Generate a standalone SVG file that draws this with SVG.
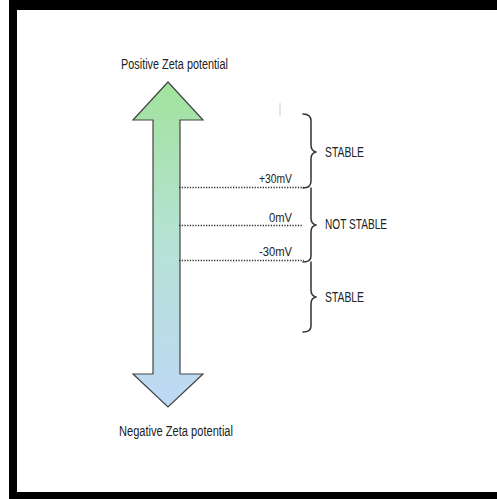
<svg xmlns="http://www.w3.org/2000/svg" width="497" height="499" viewBox="0 0 497 499">
  <defs>
    <linearGradient id="arrowGrad" gradientUnits="userSpaceOnUse" x1="0" y1="82" x2="0" y2="407">
      <stop offset="0" stop-color="#a2e39c"/>
      <stop offset="0.5" stop-color="#b6e2d6"/>
      <stop offset="1" stop-color="#bed8f6"/>
    </linearGradient>
  </defs>
  <style>
    .lbl { font-family: "Liberation Sans Narrow", "Liberation Sans", Arial, sans-serif; fill: #222; }
    .big { font-size: 14px; }
    .mv { font-size: 12px; }
    .brace { fill: none; stroke: #333; stroke-width: 1.5; stroke-linecap: round; stroke-linejoin: round; }
    .dots { fill: none; stroke: #333; stroke-width: 1.6; stroke-dasharray: 1.3 1.4; }
  </style>
  <rect x="0" y="0" width="497" height="499" fill="#ffffff"/>
  <g id="frame" fill="#000">
    <rect x="9" y="0" width="488" height="10"/>
    <rect x="9" y="0" width="8" height="499"/>
    <rect x="9" y="492" width="488" height="7"/>
  </g>
  <line x1="280" y1="103" x2="280" y2="116" stroke="#cccccc" stroke-width="1"/>
  <g id="zeta-arrow">
    <polygon points="168,82 203,120 180,120 180,374 203,374 168,407 133,374 153,374 153,120 133,120" fill="url(#arrowGrad)" stroke="#444" stroke-width="1.2" stroke-linejoin="miter"/>
  </g>
  <g id="label-positive">
    <text class="lbl big" x="121" y="69" textLength="107" lengthAdjust="spacingAndGlyphs">Positive Zeta potential</text>
  </g>
  <g id="label-negative">
    <text class="lbl big" x="119" y="436" textLength="114" lengthAdjust="spacingAndGlyphs">Negative Zeta potential</text>
  </g>
  <g id="connectors">
    <line class="dots" x1="179" y1="187.5" x2="304" y2="187.5"/>
    <line class="dots" x1="179" y1="225.5" x2="302" y2="225.5"/>
    <line class="dots" x1="179" y1="260.5" x2="304" y2="260.5"/>
  </g>
  <g id="level-plus30">
    <text class="lbl mv" x="259" y="183" textLength="33" lengthAdjust="spacingAndGlyphs">+30mV</text>
  </g>
  <g id="level-0">
    <text class="lbl mv" x="269" y="221.5" textLength="23" lengthAdjust="spacingAndGlyphs">0mV</text>
  </g>
  <g id="level-minus30">
    <text class="lbl mv" x="259" y="256" textLength="33" lengthAdjust="spacingAndGlyphs">-30mV</text>
  </g>
  <g id="brace-stable-top">
    <path class="brace" d="M303,114 Q311,114 311,121 L311,145 Q311,151 316,152 Q311,153 311,159 L311,181 Q311,188 303,188"/>
    <text class="lbl big" x="325" y="157" textLength="39" lengthAdjust="spacingAndGlyphs">STABLE</text>
  </g>
  <g id="brace-not-stable">
    <path class="brace" d="M311,188 L311,218 Q311,224 316,225 Q311,226 311,232 L311,256 Q311,262 303,262"/>
    <text class="lbl big" x="325" y="229" textLength="62" lengthAdjust="spacingAndGlyphs">NOT STABLE</text>
  </g>
  <g id="brace-stable-bottom">
    <path class="brace" d="M311,262 L311,290 Q311,296 316,297 Q311,298 311,304 L311,326 Q311,332 303,332"/>
    <text class="lbl big" x="325" y="302" textLength="39" lengthAdjust="spacingAndGlyphs">STABLE</text>
  </g>
</svg>
